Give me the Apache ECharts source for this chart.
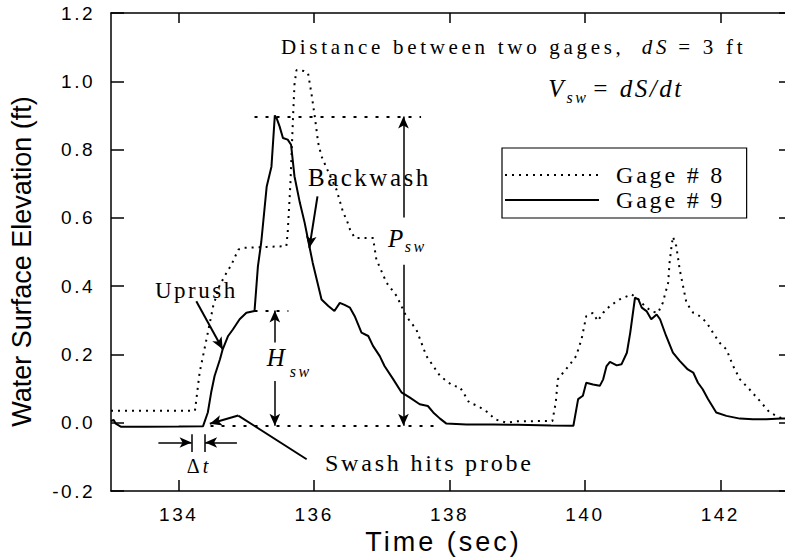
<!DOCTYPE html>
<html><head><meta charset="utf-8">
<script src="https://cdn.jsdelivr.net/npm/echarts@6/dist/echarts.min.js"></script>
<style>
html,body{margin:0;padding:0;background:#fff;}
#chart{width:785px;height:560px;}
#chart text{letter-spacing:2.5px;}
#chart text[style*="21px"]{letter-spacing:3.7px;}
#chart text[style*="24px"]{letter-spacing:2.8px;}
#chart text[style*="27px"]{letter-spacing:3px;}
#chart text[style*="Liberation Sans"]{letter-spacing:0;}
</style></head><body><div id="chart"></div>
<script>
// ---- data ----
const gage8Time = [133.0,134.24,134.31,134.41,134.51,134.60,134.68,134.78,134.88,134.95,135.30,135.59,135.61,135.65,135.69,135.71,135.74,135.85,135.91,135.96,136.01,136.06,136.11,136.22,136.33,136.43,136.48,136.53,136.60,136.87,136.92,137.07,137.22,137.36,137.51,137.66,137.86,138.05,138.15,138.22,138.29,138.42,138.57,138.67,138.84,139.00,139.43,139.52,139.57,139.60,139.68,139.78,139.87,139.95,140.02,140.12,140.19,140.27,140.37,140.51,140.69,140.80,140.89,141.00,141.08,141.15,141.23,141.25,141.28,141.30,141.35,141.40,141.45,141.50,141.60,141.70,141.80,141.89,141.99,142.09,142.19,142.29,142.43,142.56,142.73,142.88,143.00];
const gage8Elev = [0.035,0.035,0.148,0.244,0.342,0.40,0.43,0.463,0.507,0.512,0.515,0.517,0.557,0.70,0.90,0.99,1.033,1.03,1.024,0.965,0.897,0.82,0.78,0.73,0.683,0.615,0.595,0.566,0.541,0.541,0.478,0.41,0.371,0.312,0.273,0.195,0.137,0.108,0.105,0.083,0.059,0.049,0.03,0.01,0.0,0.004,0.005,0.005,0.06,0.127,0.147,0.171,0.195,0.244,0.312,0.322,0.298,0.322,0.342,0.361,0.376,0.36,0.34,0.325,0.322,0.351,0.41,0.468,0.517,0.545,0.517,0.449,0.40,0.351,0.322,0.312,0.293,0.264,0.234,0.215,0.166,0.127,0.098,0.069,0.03,0.015,0.01];
const gage9Time = [133.00,133.04,133.07,133.15,133.50,134.00,134.36,134.43,134.48,134.53,134.61,134.65,134.73,134.80,134.90,135.00,135.12,135.17,135.22,135.30,135.37,135.42,135.45,135.49,135.54,135.61,135.66,135.71,135.79,135.86,135.93,135.98,136.11,136.21,136.30,136.38,136.45,136.53,136.60,136.70,136.80,136.87,136.97,137.04,137.17,137.29,137.41,137.56,137.68,137.76,137.86,137.95,138.25,138.64,139.00,139.50,139.83,139.90,139.97,140.02,140.12,140.22,140.27,140.32,140.37,140.47,140.54,140.62,140.67,140.74,140.79,140.84,140.91,140.98,141.06,141.11,141.20,141.30,141.40,141.52,141.60,141.67,141.74,141.82,141.94,142.09,142.29,142.48,142.68,142.90,143.00];
const gage9Elev = [0.005,0.008,-0.003,-0.012,-0.012,-0.011,-0.01,0.03,0.089,0.137,0.186,0.215,0.254,0.273,0.303,0.322,0.327,0.458,0.53,0.692,0.75,0.90,0.89,0.868,0.834,0.829,0.814,0.722,0.644,0.586,0.517,0.468,0.361,0.342,0.327,0.351,0.345,0.337,0.312,0.264,0.254,0.225,0.195,0.166,0.127,0.089,0.074,0.054,0.049,0.03,0.012,-0.002,-0.005,-0.005,-0.006,-0.008,-0.009,0.069,0.079,0.117,0.112,0.108,0.127,0.166,0.178,0.168,0.171,0.205,0.264,0.366,0.361,0.337,0.327,0.303,0.317,0.303,0.254,0.205,0.181,0.156,0.147,0.117,0.098,0.069,0.03,0.02,0.012,0.01,0.01,0.012,0.012];
const xTicks = [134,136,138,140,142];
const yTicks = [-0.2,0,0.2,0.4,0.6,0.8,1.0,1.2];
const seriesNames = ['Gage # 8','Gage # 9'];
// annotation geometry (in data units)
const peakLevel = 0.897, hswLevel = 0.329, baseLevel = -0.009;

const chart = echarts.init(document.getElementById('chart'), null, {renderer:'svg', width:785, height:560});
const serif = 'Liberation Serif';
const pair = (t, v) => t.map((x, i) => [x, v[i]]);

function txt(t, x, y, size, italic, rich) {
  const label = {show:true, position:'right', distance:0, formatter:t, color:'#000',
      fontFamily:serif, fontSize:size, fontStyle: italic ? 'italic' : 'normal'};
  if (rich) label.rich = rich;
  return {coord:[x, y], symbol:'circle', symbolSize:0, itemStyle:{color:'transparent'}, label};
}
const dotted = {color:'#000', width:2, type:[3,8]};
const thin = {color:'#000', width:1.5, type:'solid'};
const thick = {color:'#000', width:2, type:'solid'};
function seg(x1, y1, x2, y2, style, s1, s2) {
  return [{coord:[x1, y1], symbol:s1 || 'none', symbolSize:[8,12], lineStyle:style},
          {coord:[x2, y2], symbol:s2 || 'none', symbolSize:[8,12], lineStyle:style}];
}

const axisCol = {color:'#000', width:1.5};
const option = {
  animation:false,
  backgroundColor:'#fff',
  grid:{left:111, top:13, width:677, height:478, containLabel:false, outerBoundsMode:'none'},
  legend:{
    data:seriesNames, left:502, top:148, orient:'vertical',
    itemWidth:94, itemHeight:14, itemGap:1, padding:[15,44,6,2],
    borderColor:'#000', borderWidth:1.2, backgroundColor:'#fff',
    itemStyle:{color:'transparent', borderColor:'transparent', borderWidth:0, opacity:0},
    lineStyle:{color:'#000'},
    textStyle:{fontFamily:serif, fontSize:24, color:'#000', padding:[0,0,0,12]}
  },
  xAxis:[
    {type:'value', min:133, max:143, position:'bottom',
     axisLine:{show:true, onZero:false, lineStyle:axisCol},
     axisTick:{show:true, inside:true, length:11, customValues:xTicks, lineStyle:axisCol},
     axisLabel:{customValues:xTicks, fontSize:19, fontFamily:'Arial', color:'#000', margin:14},
     splitLine:{show:false},
     name:'Time (sec)', nameLocation:'middle', nameGap:29,
     nameTextStyle:{fontSize:27, fontFamily:'Arial', color:'#000', padding:[0,12,0,0]}},
    {type:'value', min:133, max:143, position:'top',
     axisLine:{show:true, onZero:false, lineStyle:axisCol},
     axisTick:{show:true, inside:true, length:10, customValues:xTicks, lineStyle:axisCol},
     axisLabel:{show:false}, splitLine:{show:false}}
  ],
  yAxis:[
    {type:'value', min:-0.2, max:1.2, position:'left',
     axisLine:{show:true, onZero:false, lineStyle:axisCol},
     axisTick:{show:true, inside:true, length:13, customValues:yTicks, lineStyle:axisCol},
     axisLabel:{customValues:yTicks, formatter:v => v.toFixed(1), fontSize:19, fontFamily:'Arial', color:'#000', margin:16},
     splitLine:{show:false},
     name:'Water Surface Elevation (ft)', nameLocation:'middle', nameGap:76, nameRotate:90,
     nameTextStyle:{fontSize:27, fontFamily:'Liberation Sans', color:'#000', padding:[0,19,0,0]}},
    {type:'value', min:-0.2, max:1.2, position:'right',
     axisLine:{show:true, onZero:false, lineStyle:axisCol},
     axisTick:{show:true, inside:true, length:9, customValues:yTicks, lineStyle:axisCol},
     axisLabel:{show:false}, splitLine:{show:false}}
  ],
  series:[
    {name:seriesNames[0], type:'line', data:pair(gage8Time, gage8Elev), symbol:'none', smooth:false,
     lineStyle:{color:'#000', width:2, type:[2,5]}, itemStyle:{color:'#000'}},
    {name:seriesNames[1], type:'line', data:pair(gage9Time, gage9Elev), symbol:'none', smooth:false,
     lineStyle:{color:'#000', width:2, type:'solid'}, itemStyle:{color:'#000'}},
    {name:'annotations', type:'line', data:[], silent:true, z:5,
     markLine:{silent:true, animation:false, label:{show:false}, symbol:['none','none'],
       emphasis:{disabled:true},
       data:[
         seg(135.12, peakLevel, 137.58, peakLevel, dotted),
         seg(135.12, hswLevel, 135.62, hswLevel, dotted),
         seg(134.47, baseLevel, 137.80, baseLevel, dotted),
         seg(137.32, 0.601, 137.32, peakLevel, thin, 'none', 'arrow'),
         seg(137.32, 0.463, 137.32, baseLevel, thin, 'none', 'arrow'),
         seg(135.42, 0.235, 135.42, hswLevel, thin, 'none', 'arrow'),
         seg(135.42, 0.122, 135.42, baseLevel, thin, 'none', 'arrow'),
         seg(134.26, 0.356, 134.65, 0.215, thick, 'none', 'arrow'),
         seg(136.05, 0.663, 135.93, 0.512, thick, 'none', 'arrow'),
         seg(135.89, -0.107, 134.88, 0.021, thick),
         seg(134.88, 0.021, 134.46, -0.003, thick, 'none', 'arrow'),
         seg(133.70, -0.058, 134.19, -0.058, thin, 'none', 'arrow'),
         seg(134.86, -0.058, 134.39, -0.058, thin, 'none', 'arrow'),
         seg(134.19, -0.034, 134.19, -0.086, thin),
         seg(134.39, -0.034, 134.39, -0.086, thin)
       ]},
     markPoint:{silent:true, animation:false,
       data:[
         txt('Distance between two gages,', 135.51, 1.101, 21, false),
         txt('dS', 140.84, 1.101, 21, true),
         txt('= 3 ft', 141.38, 1.101, 21, false),
         txt('V', 139.46, 0.98, 25, true),
         txt('sw', 139.73, 0.952, 16, true),
         txt('= dS/dt', 140.10, 0.98, 25, true),
         txt('Uprush', 133.65, 0.387, 23, false),
         txt('Backwash', 135.91, 0.717, 25, false),
         txt('P', 137.09, 0.541, 25, true),
         txt('sw', 137.34, 0.515, 16, true),
         txt('H', 135.30, 0.190, 25, true),
         txt('sw', 135.64, 0.150, 16, true),
         txt('Swash hits probe', 136.16, -0.119, 24, false),
         txt('{d|Δ}{t|t}', 134.12, -0.127, 20, false,
             {d:{fontFamily:serif, fontSize:20, color:'#000', padding:[0,0,0,0]},
              t:{fontFamily:serif, fontSize:20, fontStyle:'italic', color:'#000', padding:[0,0,0,3]}})
       ]}}
  ]
};
chart.setOption(option);
</script>
</body></html>
